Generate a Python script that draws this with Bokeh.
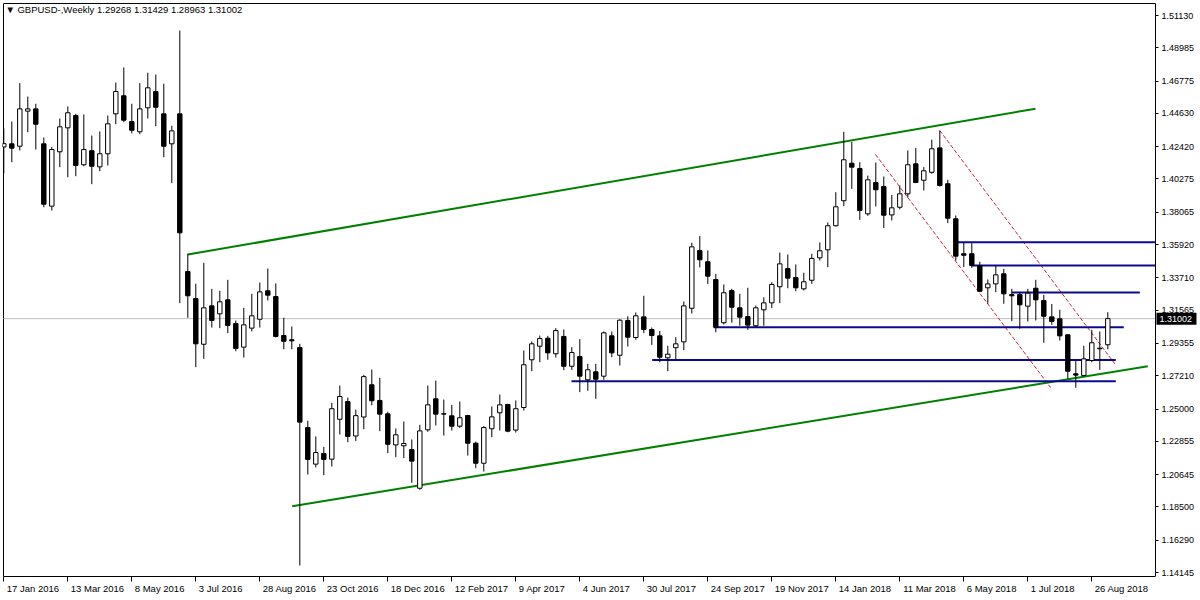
from bokeh.plotting import figure
from bokeh.models import (Range1d, FixedTicker, PrintfTickFormatter, Label,
                          LinearAxis, ColumnDataSource)
from bokeh.core.properties import value
from bokeh.embed import file_html
from bokeh.resources import INLINE

# ---------------- data (weekly GBPUSD, one bar per week starting 17 Jan 2016) -------------
opens = [1.4240, 1.4261, 1.4245, 1.4478, 1.4493, 1.4261, 1.3847, 1.4208, 1.4367, 1.4449,
         1.4122, 1.4215, 1.4108, 1.4195, 1.4460, 1.4580, 1.4409, 1.4341, 1.4500, 1.4608,
         1.4460, 1.4261, 1.4460, 1.3413, 1.3234, 1.2930, 1.3185, 1.3132, 1.3225, 1.3068,
         1.2911, 1.3037, 1.3096, 1.3285, 1.3247, 1.2988, 1.2960, 1.2909, 1.2377, 1.2134,
         1.2205, 1.2167, 1.2432, 1.2550, 1.2321, 1.2447, 1.2661, 1.2557, 1.2468, 1.2262,
         1.2256, 1.2231, 1.1974, 1.2362, 1.2568, 1.2466, 1.2455, 1.2386, 1.2457, 1.2273,
         1.2140, 1.2369, 1.2475, 1.2530, 1.2360, 1.2510, 1.2827, 1.2917, 1.2970, 1.2867,
         1.2982, 1.2784, 1.2849, 1.2694, 1.2747, 1.2718, 1.2986, 1.2857, 1.3088, 1.2975,
         1.3112, 1.3028, 1.2986, 1.2840, 1.2907, 1.2946, 1.3169, 1.3553, 1.3478, 1.3360,
         1.3073, 1.3287, 1.3172, 1.3114, 1.3053, 1.3159, 1.3205, 1.3312, 1.3433, 1.3373,
         1.3298, 1.3355, 1.3504, 1.3557, 1.3717, 1.3883, 1.4132, 1.4097, 1.3796, 1.4004,
         1.3978, 1.3789, 1.3840, 1.3929, 1.4128, 1.4019, 1.4072, 1.4234, 1.3996, 1.3763,
         1.3531, 1.3531, 1.3451, 1.3305, 1.3331, 1.3398, 1.3260, 1.3260, 1.3183, 1.3302,
         1.3221, 1.3112, 1.3099, 1.2993, 1.2734, 1.2723, 1.2822, 1.2900, 1.29268]
highs = [1.4363, 1.4409, 1.4664, 1.4575, 1.4527, 1.4303, 1.4239, 1.4429, 1.4509, 1.4460,
         1.4456, 1.4316, 1.4343, 1.4449, 1.4668, 1.4768, 1.4527, 1.4664, 1.4733, 1.4721,
         1.4660, 1.4381, 1.5013, 1.3531, 1.3332, 1.3471, 1.3298, 1.3285, 1.3358, 1.3088,
         1.3172, 1.3265, 1.3340, 1.3433, 1.3334, 1.3106, 1.3048, 1.2933, 1.2422, 1.2318,
         1.2249, 1.2541, 1.2656, 1.2576, 1.2496, 1.2727, 1.2762, 1.2707, 1.2482, 1.2371,
         1.2417, 1.2298, 1.2395, 1.2656, 1.2689, 1.2563, 1.2528, 1.2550, 1.2462, 1.2284,
         1.2386, 1.2517, 1.2596, 1.2535, 1.2557, 1.2889, 1.2948, 1.2988, 1.2986, 1.3037,
         1.3028, 1.2911, 1.2964, 1.2800, 1.2800, 1.3015, 1.3015, 1.3096, 1.3116, 1.3141,
         1.3252, 1.3041, 1.3018, 1.2920, 1.2977, 1.3214, 1.3604, 1.3648, 1.3553, 1.3397,
         1.3327, 1.3298, 1.3265, 1.3305, 1.3187, 1.3242, 1.3342, 1.3539, 1.3526, 1.3460,
         1.3405, 1.3531, 1.3606, 1.3739, 1.3940, 1.4341, 1.4274, 1.4139, 1.4050, 1.4137,
         1.4044, 1.3921, 1.3984, 1.4217, 1.4234, 1.4106, 1.4289, 1.4349, 1.4022, 1.3785,
         1.3604, 1.3601, 1.3478, 1.3360, 1.3451, 1.3431, 1.3298, 1.3276, 1.3298, 1.3358,
         1.3258, 1.3198, 1.3159, 1.2997, 1.2818, 1.2920, 1.3026, 1.3015, 1.31429]
lows = [1.4064, 1.4139, 1.4217, 1.4338, 1.4223, 1.3840, 1.3818, 1.4106, 1.4039, 1.4046,
        1.4112, 1.3993, 1.4079, 1.4117, 1.4391, 1.4405, 1.4330, 1.4325, 1.4429, 1.4378,
        1.4172, 1.4000, 1.3203, 1.3106, 1.2778, 1.2833, 1.3041, 1.3037, 1.3004, 1.2884,
        1.2842, 1.3015, 1.3041, 1.3221, 1.2975, 1.2897, 1.2897, 1.1461, 1.2065, 1.2112,
        1.2061, 1.2118, 1.2331, 1.2280, 1.2288, 1.2366, 1.2525, 1.2353, 1.2207, 1.2180,
        1.2174, 1.2010, 1.1964, 1.2349, 1.2391, 1.2324, 1.2357, 1.2375, 1.2191, 1.2107,
        1.2085, 1.2313, 1.2357, 1.2346, 1.2344, 1.2490, 1.2751, 1.2811, 1.2827, 1.2842,
        1.2758, 1.2760, 1.2612, 1.2621, 1.2568, 1.2694, 1.2844, 1.2789, 1.2915, 1.2960,
        1.3004, 1.2926, 1.2811, 1.2751, 1.2831, 1.2891, 1.3134, 1.3440, 1.3331, 1.3010,
        1.3061, 1.3073, 1.3053, 1.3026, 1.3043, 1.3053, 1.3170, 1.3203, 1.3302, 1.3282,
        1.3287, 1.3331, 1.3486, 1.3442, 1.3712, 1.3847, 1.3962, 1.3756, 1.3783, 1.3845,
        1.3702, 1.3752, 1.3826, 1.3903, 1.4000, 1.3951, 1.4062, 1.3978, 1.3734, 1.3486,
        1.3442, 1.3438, 1.3276, 1.3199, 1.3276, 1.3199, 1.3083, 1.3033, 1.3081, 1.3088,
        1.2940, 1.3059, 1.2955, 1.2701, 1.2641, 1.2716, 1.2811, 1.2760, 1.28963]
closes = [1.4262, 1.4232, 1.4493, 1.4493, 1.4391, 1.3860, 1.4223, 1.4374, 1.4467, 1.4117,
          1.4223, 1.4112, 1.4195, 1.4394, 1.4608, 1.4418, 1.4351, 1.4493, 1.4633, 1.4504,
          1.4245, 1.4347, 1.3670, 1.3252, 1.2933, 1.3172, 1.3088, 1.3212, 1.3055, 1.2902,
          1.3059, 1.3119, 1.3278, 1.3256, 1.2982, 1.2950, 1.2953, 1.2413, 1.2165, 1.2211,
          1.2165, 1.2502, 1.2583, 1.2318, 1.2456, 1.2715, 1.2555, 1.2466, 1.2266, 1.2329,
          1.2271, 1.2154, 1.2355, 1.2528, 1.2466, 1.2469, 1.2386, 1.2442, 1.2273, 1.2140,
          1.2377, 1.2448, 1.2528, 1.2353, 1.2502, 1.2794, 1.2933, 1.2968, 1.2873, 1.3021,
          1.2784, 1.2875, 1.2718, 1.2761, 1.2698, 1.3006, 1.2873, 1.3090, 1.2977, 1.3119,
          1.3028, 1.2988, 1.2844, 1.2864, 1.2933, 1.3185, 1.3577, 1.3491, 1.3382, 1.3043,
          1.3272, 1.3176, 1.3110, 1.3057, 1.3172, 1.3205, 1.3327, 1.3464, 1.3369, 1.3305,
          1.3345, 1.3500, 1.3551, 1.3717, 1.3843, 1.4155, 1.4106, 1.3818, 1.4022, 1.3956,
          1.3787, 1.3836, 1.3929, 1.4122, 1.4004, 1.4082, 1.4228, 1.3984, 1.3767, 1.3515,
          1.3521, 1.3453, 1.3282, 1.3331, 1.3391, 1.3265, 1.3252, 1.3192, 1.3269, 1.3225,
          1.3116, 1.3081, 1.2986, 1.2751, 1.2725, 1.2833, 1.2940, 1.2904, 1.31002]
week_index = list(range(len(opens)))

date_tick_index = [0, 8, 16, 24, 32, 40, 48, 56, 64, 72, 80, 88, 96, 104, 112, 120, 128, 136]
date_tick_labels = ["17 Jan 2016", "13 Mar 2016", "8 May 2016", "3 Jul 2016", "28 Aug 2016",
                    "23 Oct 2016", "18 Dec 2016", "12 Feb 2017", "9 Apr 2017", "4 Jun 2017",
                    "30 Jul 2017", "24 Sep 2017", "19 Nov 2017", "14 Jan 2018", "11 Mar 2018",
                    "6 May 2018", "1 Jul 2018", "26 Aug 2018"]
price_ticks = [1.51130, 1.48985, 1.46775, 1.44630, 1.42420, 1.40275, 1.38065, 1.35920,
               1.33710, 1.31565, 1.29355, 1.27210, 1.25000, 1.22855, 1.20645, 1.18500,
               1.16290, 1.14145]

# drawn studies (bar index, price)
upper_trend_x = [23.0, 128.96]
upper_trend_y = [1.3526, 1.4494]
lower_trend_x = [36.05, 143.0]
lower_trend_y = [1.1855, 1.2784]
red_left_x = [108.96, 130.84]
red_left_y = [1.4190, 1.2643]
red_right_x = [117.0, 138.875]
red_right_y = [1.4349, 1.2800]
level_prices = [1.3608, 1.3453, 1.3274, 1.3043, 1.2826, 1.2685]
level_start = [119.2, 120.9, 126.0, 88.75, 81.05, 70.96]
level_end = [143.96, 143.96, 142.0, 140.0, 139.0, 139.0]

symbol_title = "\u25BC GBPUSD-,Weekly  1.29268 1.31429 1.28963 1.31002"
last_price = 1.31002

# ---------------- geometry ----------------
FONT = "Liberation Sans"
PX_PER_BAR = 8.0
PRICE_PER_PX = 0.000664
CL, CR = -0.0375, 143.96          # chart box left / right (bar units)
CB, CT = 1.13880, 1.51927          # chart box bottom / top (price)
X0, XE = CL - 1 / PX_PER_BAR, CL + 1197 / PX_PER_BAR    # plotting area incl. price scale
Y0, YE = CB, CT + 1 * PRICE_PER_PX

p = figure(width=1200, height=600, output_backend="svg", toolbar_location=None,
           x_range=Range1d(X0, XE), y_range=Range1d(Y0, YE),
           y_axis_location=None, min_border_left=2, min_border_top=2,
           min_border_right=0, min_border_bottom=24)
p.background_fill_color = "white"
p.border_fill_color = "white"
p.outline_line_color = None
p.xgrid.visible = False
p.ygrid.visible = False

# chart box: left and top edges (bottom = time axis line, right = price axis line)
p.segment(x0=[CL, CL], y0=[CB, CT], x1=[CL, CR], y1=[CT, CT], line_color="black", line_width=1)

# time axis 1: tick marks
p.xaxis.ticker = FixedTicker(ticks=date_tick_index)
p.xaxis.major_label_overrides = {k: "" for k in date_tick_index}
p.xaxis.major_tick_in = 0
p.xaxis.major_tick_out = 5
p.xaxis.minor_tick_line_color = None
p.xaxis.major_label_standoff = 0
p.xaxis.axis_line_color = "black"
p.xaxis.bounds = (CL, CR)

# time axis 2: date texts, each starting just right of its tick (MT4 style)
_w = {"0": .556, "1": .556, "2": .556, "3": .556, "4": .556, "5": .556, "6": .556,
      "7": .556, "8": .556, "9": .556, " ": .278, "J": .5, "a": .556, "n": .556, "M": .833,
      "r": .333, "y": .5, "u": .556, "l": .222, "A": .667, "g": .556, "O": .778, "c": .5,
      "t": .278, "D": .722, "e": .556, "F": .611, "b": .556, "p": .556, "S": .667,
      "N": .722, "o": .556, "v": .5, "s": .5}
LAB_PX = 9.5
centers = []
for k, s in zip(date_tick_index, date_tick_labels):
    wpx = sum(_w.get(ch, .556) for ch in s) * LAB_PX
    centers.append(round(k + (3 + wpx / 2) / PX_PER_BAR, 3))
date_axis = LinearAxis(ticker=FixedTicker(ticks=centers),
                       major_label_overrides={c: s for c, s in zip(centers, date_tick_labels)},
                       major_tick_in=0, major_tick_out=0, minor_tick_line_color=None,
                       axis_line_color=None, major_label_standoff=1,
                       major_label_text_font=FONT, major_label_text_font_size=f"{LAB_PX}px",
                       major_label_text_color="black")
p.add_layout(date_axis, "below")

# price axis, pinned on the right edge of the chart box
price_axis = LinearAxis(fixed_location=CR, ticker=FixedTicker(ticks=price_ticks),
                        formatter=PrintfTickFormatter(format="%.5f"), bounds=(CB, CT),
                        major_tick_in=0, major_tick_out=3, minor_tick_line_color=None,
                        major_label_standoff=3, major_label_text_font=FONT,
                        major_label_text_font_size="9px", major_label_text_color="black",
                        axis_line_color="black")
p.add_layout(price_axis, "right")

# current price line
p.segment(x0=[CL], y0=[last_price], x1=[CR], y1=[last_price], line_color="#C0C0C0",
          line_width=1)

# trend lines / channels
p.line(upper_trend_x, upper_trend_y, line_color="#008000", line_width=2)
p.line(lower_trend_x, lower_trend_y, line_color="#008000", line_width=2)
p.line(red_left_x, red_left_y, line_color="#C02838", line_width=1, line_dash="4 2")
p.line(red_right_x, red_right_y, line_color="#C02838", line_width=1, line_dash="4 2")
p.segment(x0=level_start, y0=level_prices, x1=level_end, y1=level_prices,
          line_color="#0A0A90", line_width=2)

# candles
tops = [max(o, c) for o, c in zip(opens, closes)]
bots = [min(o, c) for o, c in zip(opens, closes)]
fills = ["white" if c >= o else "black" for o, c in zip(opens, closes)]
src = ColumnDataSource(dict(x=week_index, h=highs, l=lows, top=tops, bottom=bots, fill=fills))
p.segment(x0="x", y0="l", x1="x", y1="h", source=src, line_color="black", line_width=1)
p.vbar(x="x", top="top", bottom="bottom", width=0.55, source=src,
       fill_color="fill", line_color="black", line_width=1)

# current price tag on the price scale
p.quad(left=[CR + 1 / PX_PER_BAR], right=[CR + 41 / PX_PER_BAR],
       bottom=[last_price - 6 * PRICE_PER_PX], top=[last_price + 6 * PRICE_PER_PX],
       fill_color="black", line_color=None, level="overlay")
p.text(x=[CR + 4 / PX_PER_BAR], y=[last_price], text=["1.31002"], text_font=value(FONT),
       text_font_size="9px", text_color="white", text_baseline="middle",
       text_align="left", level="overlay")

# header
p.add_layout(Label(x=0.2, y=1.5187, text=symbol_title, text_font=FONT,
                   text_font_size="9.5px", text_color="black",
                   text_baseline="top", text_align="left"))

open("out.html", "w").write(file_html(p, INLINE))
